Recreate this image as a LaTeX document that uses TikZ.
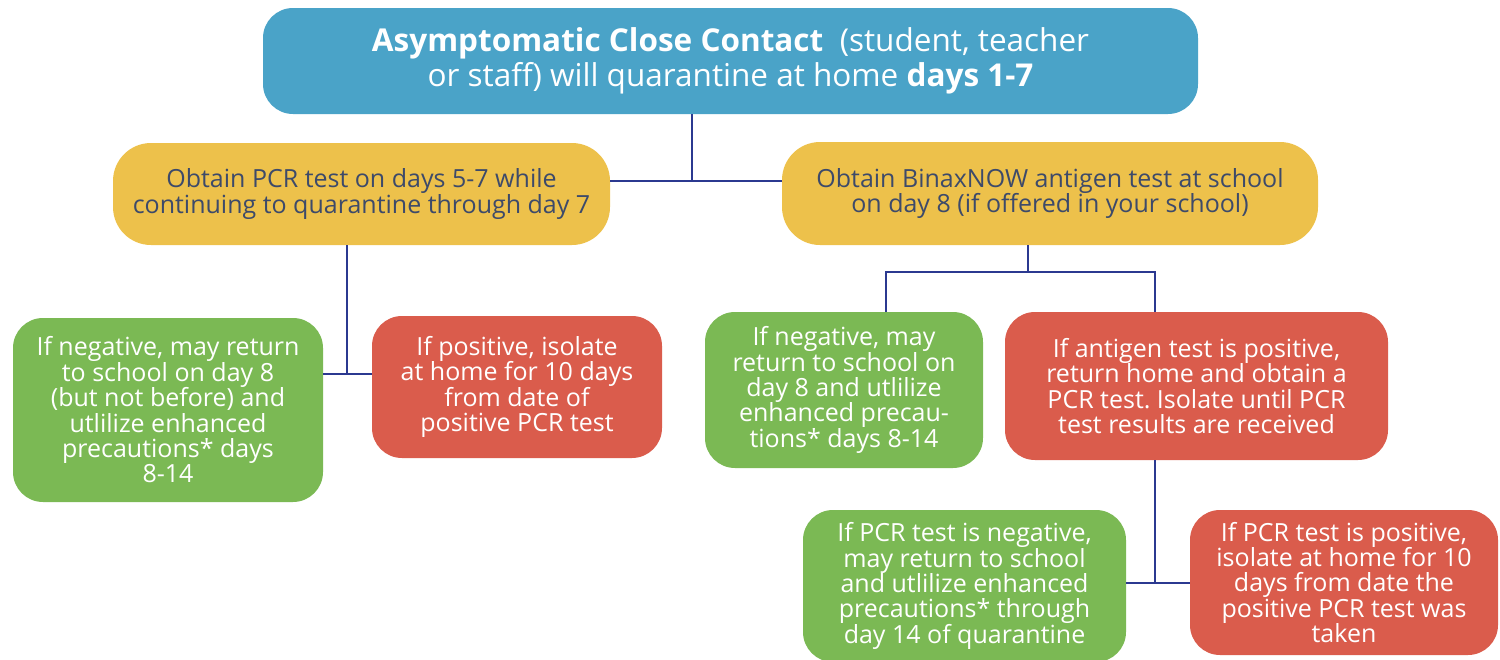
\documentclass[tikz,border=0pt]{standalone}
\usepackage{fontspec}
\setmainfont{Open Sans}
\frenchspacing
\definecolor{cblue}{HTML}{4AA3C8}
\definecolor{cyellow}{HTML}{EDC14B}
\definecolor{cgreen}{HTML}{7BB954}
\definecolor{cred}{HTML}{DA5C4C}
\definecolor{cline}{HTML}{2B3990}
\definecolor{cytext}{HTML}{3D4A6A}
\begin{document}
\begin{tikzpicture}[x=1pt,y=-1pt,
  box/.style={rounded corners=30pt, inner sep=0pt, align=center, text=white,
    font=\frenchspacing\fontsize{25}{25.4}\selectfont},
  ybox/.style={box, fill=cyellow, text=cytext, rounded corners=38pt},
  gbox/.style={box, fill=cgreen},
  rbox/.style={box, fill=cred},
  conn/.style={draw=cline, line width=2pt}]
\useasboundingbox (0,0) rectangle (1500,659);
\node[box, fill=cblue, minimum width=935pt, minimum height=106pt,
  font=\fontsize{31.5}{35}\selectfont] (top) at (730.5,61)
  {\textbf{Asymptomatic Close Contact}\ \ (student, teacher\\or staff) will quarantine at home \textbf{days 1-7}};
\node[ybox, minimum width=497pt, minimum height=102pt] (pcr) at (361.5,194)
  {Obtain PCR test on days 5-7 while\\continuing to quarantine through day 7};
\node[ybox, minimum width=536pt, minimum height=103pt] (bin) at (1050,193.5)
  {Obtain BinaxNOW antigen test at school\\on day 8 (if offered in your school)};
\node[gbox, minimum width=310pt, minimum height=184pt] (neg1) at (168,410)
  {If negative, may return\\to school on day 8\\(but not before) and\\utlilize enhanced\\precautions* days\\8-14};
\node[rbox, minimum width=290pt, minimum height=142pt] (pos1) at (517,387)
  {If positive, isolate\\at home for 10 days\\from date of\\positive PCR test};
\node[gbox, minimum width=278pt, minimum height=156pt] (neg2) at (844,390)
  {If negative, may\\return to school on\\day 8 and utlilize\\enhanced precau-\\tions* days 8-14};
\node[rbox, minimum width=383pt, minimum height=148pt] (pos2) at (1196.5,386)
  {If antigen test is positive,\\return home and obtain a\\PCR test. Isolate until PCR\\test results are received};
\node[gbox, minimum width=323pt, minimum height=152pt] (neg3) at (964.5,586)
  {If PCR test is negative,\\may return to school\\and utlilize enhanced\\precautions* through\\day 14 of quarantine};
\node[rbox, minimum width=308pt, minimum height=145pt] (pos3) at (1344,582.5)
  {If PCR test is positive,\\isolate at home for 10\\days from date the\\positive PCR test was\\taken};
\coordinate (j1) at (692,181);
\coordinate (j2) at (347,374);
\coordinate (j3) at (1028,272);
\coordinate (j3l) at (886,272);
\coordinate (j3r) at (1155,272);
\coordinate (j4) at (1155,583);
\draw[conn] (top.south -| j1) -- (j1);
\draw[conn] (pcr.east |- j1) -- (bin.west |- j1);
\draw[conn] (pcr.south -| j2) -- (j2);
\draw[conn] (neg1.east |- j2) -- (pos1.west |- j2);
\draw[conn] (bin.south -| j3) -- (j3);
\draw[conn] (neg2.north -| j3l) -- (j3l) -- (j3r) -- (pos2.north -| j3r);
\draw[conn] (pos2.south -| j4) -- (j4);
\draw[conn] (neg3.east |- j4) -- (pos3.west |- j4);
\end{tikzpicture}
\end{document}
